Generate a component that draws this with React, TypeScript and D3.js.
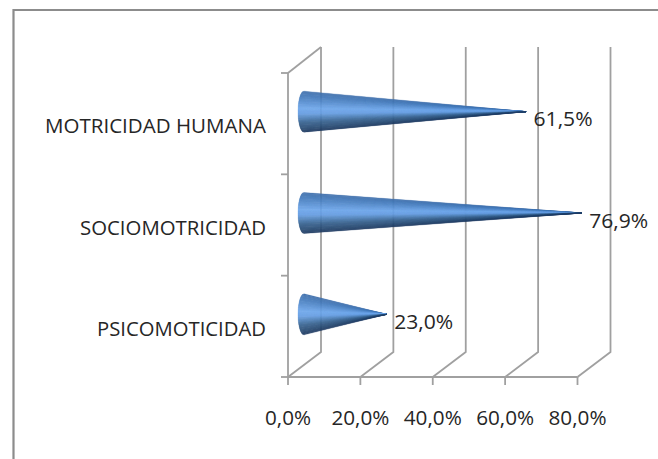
import React from "react";
import * as d3 from "d3";

const categories = ["MOTRICIDAD HUMANA", "SOCIOMOTRICIDAD", "PSICOMOTICIDAD"];
const values = [61.5, 76.9, 23.0];
const valueLabels = ["61,5%", "76,9%", "23,0%"];
const xTicks = [0, 20, 40, 60, 80];
const xTickLabels = ["0,0%", "20,0%", "40,0%", "60,0%", "80,0%"];

const W = 658, H = 459;
const FONT = "'Open Sans', Lato, sans-serif";
const GRID = "#a0a0a0";
const depthX = 33, depthY = 25;
const x = d3.scaleLinear().domain([0, 80]).range([288, 577.5]);
const y = d3.scaleBand<string>().domain(categories).range([73, 377]);
const shade = d3.scaleLinear<string>()
  .domain([-1, -0.75, -0.15, 0.1, 0.55, 1])
  .range(["#3f6fab", "#4379ba", "#6ca5ea", "#669ee2", "#37628f", "#1c3a60"]);

function Cone({ cat, value }: { cat: string; value: number }) {
  const cy = y(cat)! + y.bandwidth() / 2 - 12;
  const baseX = x(0) + 16;
  const tipX = x(value) + 15.5;
  const ry = 20.5, rx = 6;
  const n = 60;
  const ts = d3.range(n + 1).map((i) => -1 + (2 * i) / n);
  const lx = (u: number) => baseX - rx * Math.sqrt(Math.max(0, 1 - u * u));
  return (
    <g>
      {ts.slice(0, -1).map((t, i) => {
        const t2 = ts[i + 1];
        const d = `M${lx(t)},${cy + t * ry}L${lx(t2)},${cy + t2 * ry}L${tipX},${cy}Z`;
        const c = shade((t + t2) / 2);
        return <path key={i} d={d} fill={c} stroke={c} strokeWidth={0.3} />;
      })}
    </g>
  );
}

export default function App() {
  const top = y.range()[0], bottom = y.range()[1];
  const yEdges = [...categories.map((c) => y(c)!), bottom];
  return (
    <svg width={W} height={H} viewBox={`0 0 ${W} ${H}`}
      style={{ position: "absolute", left: 0, top: 0, background: "#fff" }} fontFamily={FONT}>
      <path d={`M13.5,${H}V10H${W}`} fill="none" stroke="#8c8c8c" strokeWidth={2.2} />

      {xTicks.map((t) => (
        <path key={t} fill="none" stroke={GRID} strokeWidth={1.8}
          d={`M${x(t)},${bottom}L${x(t) + depthX},${bottom - depthY}V${top - depthY - 1}`} />
      ))}
      <path fill="none" stroke={GRID} strokeWidth={1.8}
        d={`M${x(0)},${top}L${x(0) + depthX},${top - depthY - 1}`} />
      <path fill="none" stroke={GRID} strokeWidth={1.8} d={`M${x(0)},${top}V${bottom}H${x(80)}`} />
      {yEdges.map((v, i) => (
        <line key={i} x1={x(0) - 7} x2={x(0)} y1={v} y2={v} stroke={GRID} strokeWidth={1.8} />
      ))}
      {xTicks.map((t) => (
        <line key={t} x1={x(t)} x2={x(t)} y1={bottom} y2={bottom + 8} stroke={GRID} strokeWidth={1.8} />
      ))}

      {categories.map((c, i) => <Cone key={c} cat={c} value={values[i]} />)}

      {categories.map((c, i) => (
        <text key={c} x={266} y={y(c)! + y.bandwidth() / 2 + 9.5} textAnchor="end" fontSize={20.5} fill="#262626"
          textLength={[221, 186, 169][i]} lengthAdjust="spacingAndGlyphs">{c}</text>
      ))}
      {categories.map((c, i) => (
        <text key={c} x={x(values[i]) + 23} y={y(c)! + y.bandwidth() / 2 + 2.5} fontSize={20.5} fill="#262626"
          textLength={59} lengthAdjust="spacingAndGlyphs">{valueLabels[i]}</text>
      ))}
      {xTicks.map((t, i) => (
        <text key={t} x={x(t)} y={424.5} textAnchor="middle" fontSize={20.5} fill="#262626"
          textLength={i === 0 ? 46 : 58} lengthAdjust="spacingAndGlyphs">{xTickLabels[i]}</text>
      ))}
    </svg>
  );
}
